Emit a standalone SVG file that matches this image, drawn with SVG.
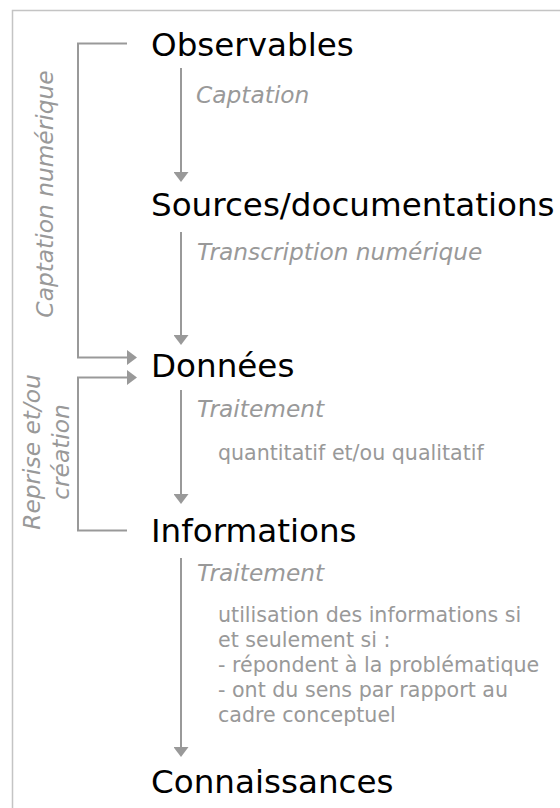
<svg xmlns="http://www.w3.org/2000/svg" width="560" height="808" viewBox="0 0 560 808">
<defs>
<marker id="ah" viewBox="0 0 10 15" refX="0" refY="7.5" markerWidth="10" markerHeight="15" markerUnits="userSpaceOnUse" orient="auto">
<path d="M0,0 L10,7.5 L0,15 z" fill="#999"/>
</marker>
<style>
.title{font-family:"DejaVu Sans",Verdana,sans-serif;font-size:32.6px;fill:#000}
.lab{font-family:"DejaVu Sans",Verdana,sans-serif;font-size:23.3px;font-style:italic;fill:#999}
.note{font-family:"DejaVu Sans",Verdana,sans-serif;font-size:20.6px;fill:#999}
.conn{stroke:#999;stroke-width:2;fill:none}
</style>
</defs>
<rect width="560" height="808" fill="#fff"/>
<path d="M12.5,808 V10.5 H560" fill="none" stroke="#c4c4c4" stroke-width="1.5"/>
<g id="connectors">
<line class="conn" x1="181" y1="68" x2="181" y2="172" marker-end="url(#ah)"/>
<line class="conn" x1="181" y1="232" x2="181" y2="335" marker-end="url(#ah)"/>
<line class="conn" x1="181" y1="390" x2="181" y2="494" marker-end="url(#ah)"/>
<line class="conn" x1="181" y1="558" x2="181" y2="747" marker-end="url(#ah)"/>
<path class="conn" d="M127,43.5 H78 V357.5 H127" marker-end="url(#ah)"/>
<path class="conn" d="M127,530.5 H78 V377.5 H127" marker-end="url(#ah)"/>
</g>
<g id="observables"><text class="title" x="151" y="55.5">Observables</text></g>
<g id="sources"><text class="title" x="151" y="215.5">Sources/documentations</text></g>
<g id="donnees"><text class="title" x="151" y="376.5">Données</text></g>
<g id="informations"><text class="title" x="151" y="541.5">Informations</text></g>
<g id="connaissances"><text class="title" x="151" y="792.5">Connaissances</text></g>
<g id="labels">
<text class="lab" x="196" y="103">Captation</text>
<text class="lab" x="197" y="260">Transcription numérique</text>
<text class="lab" x="197" y="417">Traitement</text>
<text class="note" x="218" y="460">quantitatif et/ou qualitatif</text>
<text class="lab" x="197" y="581">Traitement</text>
<text class="note" x="218" y="622">utilisation des informations si</text>
<text class="note" x="218" y="647">et seulement si :</text>
<text class="note" x="218" y="672">- répondent à la problématique</text>
<text class="note" x="218" y="697">- ont du sens par rapport au</text>
<text class="note" x="218" y="722">cadre conceptuel</text>
<text class="lab" transform="translate(53,194) rotate(-90)" text-anchor="middle">Captation numérique</text>
<text class="lab" transform="translate(40,452) rotate(-90)" text-anchor="middle">Reprise et/ou</text>
<text class="lab" transform="translate(69,452) rotate(-90)" text-anchor="middle">création</text>
</g>
</svg>
